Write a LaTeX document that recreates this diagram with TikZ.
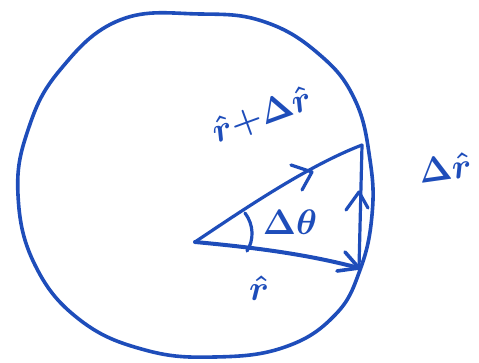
\documentclass[tikz,border=0pt]{standalone}
\usepackage{graphicx}
\usetikzlibrary{calc}
\definecolor{pen}{HTML}{1E4DBA}
\newcommand{\handtxt}[1]{\scalebox{2.05}{\boldmath\LARGE #1}}
\begin{document}
\begin{tikzpicture}[x=1pt,y=-1pt,
  stroke/.style={draw=pen,line width=3.2pt,line cap=round,line join=round},
  lbl/.style={text=pen,inner sep=0pt}]
\useasboundingbox (0,0) rectangle (479,363);
% circle
\draw[stroke,line width=3.6pt] plot[smooth cycle,tension=0.7] coordinates {
 (120,20) (200,14) (265,22) (320,55) (355,100) (370,160) (372,215) (360,270)
 (335,315) (285,347) (215,357) (145,350) (80,320) (35,265) (18,195) (28,130) (60,70)};
\coordinate (O) at (195,242);
\coordinate (A) at (362,145);
\coordinate (B) at (359,268);
% upper radius (r + dr)
\draw[stroke] (O) .. controls (250,205) and (310,165) .. (A);
\draw[stroke] (291,165) -- (312,172) -- (302,190);
% lower radius (r)
\draw[stroke,line width=4pt] (O) .. controls (260,248) and (310,255) .. (B);
\draw[stroke,line width=3.6pt] (345,252) -- (B) -- (337,271);
% delta r
\draw[stroke] (A) -- (B);
\draw[stroke] (346,210) -- (359,192) -- (368,208);
% angle arc
\draw[stroke] (245,213) .. controls (254,225) and (254,240) .. (247,251);
% labels
\node[lbl] (dth) at (290,222) {\handtxt{$\Delta\theta$}};
\node[lbl,rotate=20] (rdr) at (262,116) {\handtxt{$\hat{r}{+}\Delta\hat{r}$}};
\node[lbl] (r) at (259,288) {\handtxt{$\hat{r}$}};
\node[lbl,rotate=8] (dr) at (445,168) {\handtxt{$\Delta\hat{r}$}};
\end{tikzpicture}
\end{document}
